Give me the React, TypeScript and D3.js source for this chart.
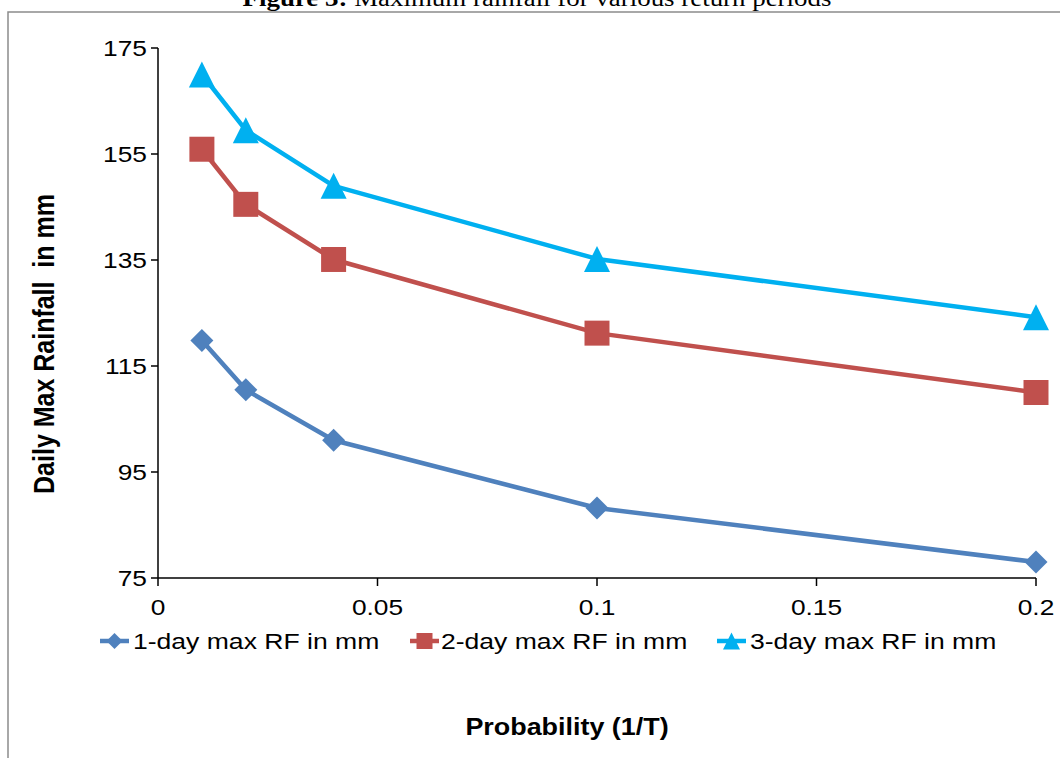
import React from "react";
import * as d3 from "d3";

const probabilities = [0.01, 0.02, 0.04, 0.1, 0.2];
const oneDay = [119.8, 110.5, 101.0, 88.2, 78.0];
const twoDay = [155.9, 145.5, 135.1, 121.2, 110.0];
const threeDay = [170.0, 159.5, 149.0, 135.2, 124.2];
const yTicks = [75, 95, 115, 135, 155, 175];
const xTicks = [0, 0.05, 0.1, 0.15, 0.2];
const seriesNames = ["1-day max RF in mm", "2-day max RF in mm", "3-day max RF in mm"];

const W = 1060;
const H = 758;
const SX = 1.17;
const FONT = "'Liberation Sans', Arial, sans-serif";

const colors = ["#4F81BD", "#C0504D", "#00B0F0"];
const shapes = ["diamond", "square", "triangle"];

function markerPath(shape: string, cx: number, cy: number, s: number): string {
  if (shape === "diamond") {
    const r = s / 2;
    return `M${cx},${cy - r}L${cx + r},${cy}L${cx},${cy + r}L${cx - r},${cy}Z`;
  }
  if (shape === "square") {
    const r = s / 2;
    return `M${cx - r},${cy - r}H${cx + r}V${cy + r}H${cx - r}Z`;
  }
  const r = s / 2;
  return `M${cx},${cy - r}L${cx + r},${cy + r}L${cx - r},${cy + r}Z`;
}

function SText(props: {
  x: number; y: number; size: number; anchor?: string; weight?: string;
  family?: string; rotate?: number; children: React.ReactNode;
}) {
  const { x, y, size, anchor = "start", weight = "normal", family = FONT, rotate = 0, children } = props;
  return (
    <g transform={`translate(${x},${y}) scale(${SX},1) rotate(${rotate})`}>
      <text x={0} y={0} fontSize={size} fontFamily={family} fontWeight={weight}
        textAnchor={anchor} fill="#000">{children}</text>
    </g>
  );
}

export default function App() {
  const x = d3.scaleLinear().domain([0, 0.2]).range([158, 1036]);
  const y = d3.scaleLinear().domain([75, 175]).range([578, 48]);
  const series = [oneDay, twoDay, threeDay];
  const sizes = [23, 25, 26];
  const line = d3.line<[number, number]>().x((d) => x(d[0])).y((d) => y(d[1]));

  const legendItems = [
    { lx: 100, tx: 133 },
    { lx: 410, tx: 441 },
    { lx: 717, tx: 750 },
  ];
  const legendY = 641;

  return (
    <svg width={W} height={H} style={{ position: "absolute", left: 0, top: 0, background: "#fff" }}>
      <rect x={0} y={0} width={W} height={H} fill="#fff" />
      {/* frame */}
      <path d={`M8,${H}V12H${W}`} fill="none" stroke="#8c8c8c" strokeWidth={1.5} />
      {/* title (cut off at the top edge, as in the reference) */}
      <g transform={`translate(537,6) scale(${SX},1)`}>
        <text x={0} y={0} fontSize={23} fontFamily="'Liberation Serif', 'Times New Roman', serif" textAnchor="middle" fill="#000">
          <tspan fontWeight="bold">Figure 3:</tspan> Maximum rainfall for various return periods
        </text>
      </g>
      {/* axes */}
      <line x1={x(0)} x2={x(0)} y1={y(175)} y2={y(75)} stroke="#000" strokeWidth={1.5} />
      <line x1={x(0)} x2={x(0.2)} y1={y(75)} y2={y(75)} stroke="#000" strokeWidth={1.5} />
      {yTicks.map((t) => (
        <g key={"y" + t}>
          <line x1={x(0) - 7} x2={x(0)} y1={y(t)} y2={y(t)} stroke="#000" strokeWidth={1.5} />
          <SText x={x(0) - 11} y={y(t) + 8} size={22.5} anchor="end">{t}</SText>
        </g>
      ))}
      {xTicks.map((t) => (
        <g key={"x" + t}>
          <line x1={x(t)} x2={x(t)} y1={y(75)} y2={y(75) + 8} stroke="#000" strokeWidth={1.5} />
          <SText x={x(t)} y={615} size={22.5} anchor="middle">{String(t)}</SText>
        </g>
      ))}
      {/* series */}
      {series.map((vals, i) => {
        const pts = probabilities.map((p, j) => [p, vals[j]] as [number, number]);
        return (
          <g key={"s" + i}>
            <path d={line(pts) || ""} fill="none" stroke={colors[i]} strokeWidth={4.5} strokeLinejoin="round" />
            {pts.map((d, j) => (
              <path key={j} d={markerPath(shapes[i], x(d[0]), y(d[1]), sizes[i])} fill={colors[i]} />
            ))}
          </g>
        );
      })}
      {/* legend */}
      {legendItems.map((it, i) => (
        <g key={"l" + i}>
          <line x1={it.lx} x2={it.lx + 29} y1={legendY} y2={legendY} stroke={colors[i]} strokeWidth={4.5} />
          <path d={markerPath(shapes[i], it.lx + 14.5, legendY, i === 2 ? 17 : 16)} fill={colors[i]} />
          <SText x={it.tx} y={649} size={22.7}>{seriesNames[i]}</SText>
        </g>
      ))}
      {/* axis titles */}
      <SText x={567} y={735} size={23} weight="bold" anchor="middle">Probability (1/T)</SText>
      <g transform={`translate(54,344) scale(${SX},1) rotate(-90)`}>
        <text x={0} y={0} fontSize={25} fontFamily={FONT} fontWeight="bold" textAnchor="middle" fill="#000" style={{ whiteSpace: "pre" }}>
          Daily Max Rainfall  in mm
        </text>
      </g>
    </svg>
  );
}
